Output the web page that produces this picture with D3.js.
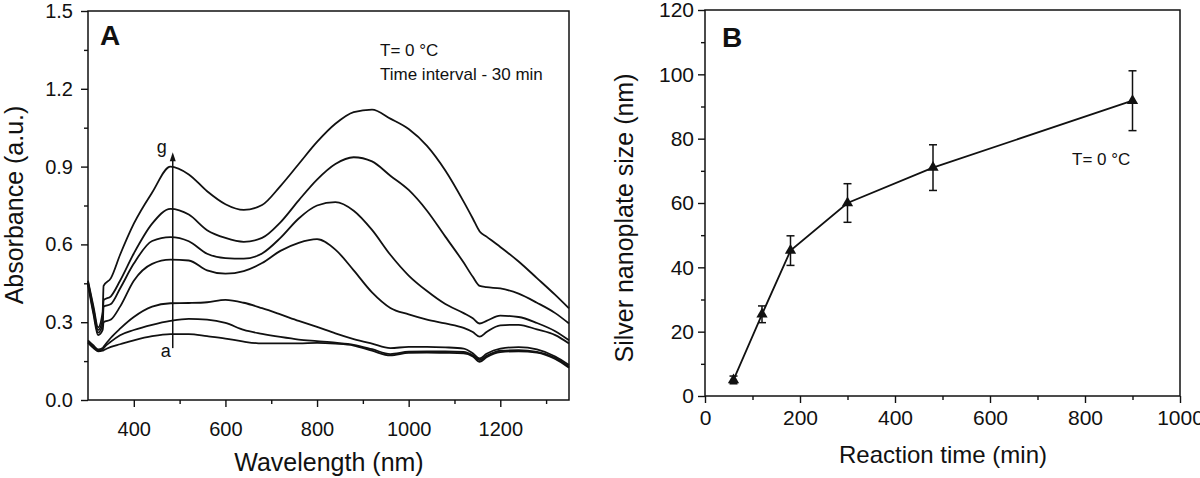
<!DOCTYPE html>
<html>
<head>
<meta charset="utf-8">
<script src="https://cdn.jsdelivr.net/npm/d3@7"></script>
<style>
  body { margin: 0; background: #fff; }
  svg { display: block; font-family: "Liberation Sans", Arial, sans-serif; }
</style>
</head>
<body>
<div class="chart"></div>
<script>

// DATA
// panel A: absorbance spectra, one array per curve (a = first, g = last)
const wavelengths = [300, 312, 322, 332, 334, 350, 370, 400, 440, 480, 520, 560, 600, 640, 680, 720, 760, 800,
  840, 880, 920, 960, 1000, 1040, 1080, 1120, 1140, 1155, 1170, 1200, 1240, 1280, 1320, 1350];
const curveA = [0.22, 0.2, 0.188, 0.19, 0.192, 0.205, 0.215, 0.23, 0.246, 0.254, 0.254, 0.246, 0.237, 0.225, 0.218, 0.218, 0.218, 0.22,
  0.217, 0.21, 0.19, 0.172, 0.182, 0.183, 0.182, 0.18, 0.168, 0.147, 0.165, 0.185, 0.188, 0.183, 0.158, 0.124];
const curveB = [0.225, 0.205, 0.19, 0.195, 0.2, 0.225, 0.25, 0.27, 0.29, 0.305, 0.313, 0.31, 0.297, 0.27, 0.255, 0.243, 0.233, 0.227,
  0.221, 0.213, 0.196, 0.177, 0.186, 0.187, 0.187, 0.185, 0.172, 0.154, 0.17, 0.19, 0.192, 0.186, 0.163, 0.128];
const curveC = [0.23, 0.21, 0.195, 0.2, 0.205, 0.24, 0.275, 0.32, 0.36, 0.373, 0.374, 0.377, 0.386, 0.375, 0.354, 0.33, 0.305, 0.282,
  0.257, 0.235, 0.217, 0.2, 0.205, 0.205, 0.203, 0.198, 0.18, 0.16, 0.178, 0.198, 0.204, 0.195, 0.168, 0.135];
const curveD = [0.445, 0.33, 0.25, 0.27, 0.3, 0.31, 0.36, 0.46, 0.525, 0.541, 0.538, 0.5, 0.487, 0.497, 0.528, 0.575, 0.606, 0.62,
  0.58, 0.5, 0.415, 0.355, 0.33, 0.31, 0.295, 0.278, 0.262, 0.244, 0.262, 0.288, 0.29, 0.272, 0.25, 0.218];
const curveE = [0.45, 0.34, 0.26, 0.29, 0.36, 0.37, 0.43, 0.526, 0.613, 0.628, 0.612, 0.564, 0.547, 0.545, 0.565, 0.625, 0.7, 0.75,
  0.763, 0.73, 0.656, 0.56, 0.48, 0.42, 0.37, 0.335, 0.315, 0.295, 0.305, 0.325, 0.32, 0.297, 0.265, 0.23];
const curveF = [0.455, 0.35, 0.27, 0.31, 0.385, 0.4, 0.46, 0.565, 0.68, 0.737, 0.715, 0.655, 0.625, 0.61, 0.625, 0.685, 0.77, 0.85,
  0.91, 0.936, 0.92, 0.865, 0.81, 0.73, 0.63, 0.53, 0.475, 0.44, 0.435, 0.43, 0.41, 0.375, 0.335, 0.295];
const curveG = [0.46, 0.36, 0.28, 0.34, 0.44, 0.47, 0.56, 0.68, 0.8, 0.9, 0.87, 0.805, 0.755, 0.733, 0.752, 0.825, 0.91, 0.995,
  1.065, 1.11, 1.12, 1.085, 1.045, 0.98, 0.885, 0.765, 0.7, 0.65, 0.63, 0.59, 0.534, 0.47, 0.405, 0.353];
const spectra = [curveA, curveB, curveC, curveD, curveE, curveF, curveG];

const wavelengthTicks = [400, 600, 800, 1000, 1200];
const wavelengthMinor = [500, 700, 900, 1100, 1300];
const absorbanceTicks = [0, 0.3, 0.6, 0.9, 1.2, 1.5];
const absorbanceMinor = [0.15, 0.45, 0.75, 1.05, 1.35];

// panel B: nanoplate size vs reaction time
const reactionTimes = [60, 120, 180, 300, 480, 900];
const plateSizes = [5, 25.4, 45.2, 60, 71, 91.8];
const sizeErrors = [1.2, 2.6, 4.6, 6, 7.1, 9.3];

const timeTicks = [0, 200, 400, 600, 800, 1000];
const timeMinor = [100, 300, 500, 700, 900];
const sizeTicks = [0, 20, 40, 60, 80, 100, 120];
const sizeMinor = [10, 30, 50, 70, 90, 110];


// Setup
const svg = d3.select('.chart')
  .append('svg')
  .attr('width', 1200)
  .attr('height', 478);

const xA = d3.scaleLinear().domain([300, 1350]).range([88, 569]);
const yA = d3.scaleLinear().domain([0, 1.5]).range([400, 11]);
const xB = d3.scaleLinear().domain([0, 1000]).range([705, 1180]);
const yB = d3.scaleLinear().domain([0, 120]).range([396, 10]);


// AXES
const styleAxis = (g, fontSize) => {
  g.select('.domain').remove();
  g.selectAll('line').attr('stroke', '#111').attr('stroke-width', 1.4);
  g.selectAll('text').attr('fill', '#111').style('font-size', fontSize + 'px')
    .style('font-family', '"Liberation Sans", Arial, sans-serif');
}

const drawAxes = (x, y, opt) => {
  const [x0, x1] = x.range();
  const [y0, y1] = y.range();

  svg.append('g')
    .attr('transform', `translate(0,${y0})`)
    .call(d3.axisBottom(x).tickValues(opt.xMinor).tickSize(4).tickFormat(''))
    .call(g => styleAxis(g, opt.fontSize));

  svg.append('g')
    .attr('transform', `translate(0,${y0})`)
    .call(d3.axisBottom(x).tickValues(opt.xTicks).tickSize(7).tickPadding(opt.xPad).tickFormat(opt.xFormat))
    .call(g => styleAxis(g, opt.fontSize));

  svg.append('g')
    .attr('transform', `translate(${x0},0)`)
    .call(d3.axisLeft(y).tickValues(opt.yMinor).tickSize(4).tickFormat(''))
    .call(g => styleAxis(g, opt.fontSize));

  svg.append('g')
    .attr('transform', `translate(${x0},0)`)
    .call(d3.axisLeft(y).tickValues(opt.yTicks).tickSize(7).tickPadding(opt.yPad).tickFormat(opt.yFormat))
    .call(g => styleAxis(g, opt.fontSize));

  // frame
  svg.append('rect')
    .attr('x', x0).attr('y', y1)
    .attr('width', x1 - x0).attr('height', y0 - y1)
    .attr('fill', 'none')
    .attr('stroke', '#111')
    .attr('stroke-width', 1.5);
}

const addText = (x, y, str, size, extra) => {
  const t = svg.append('text')
    .attr('x', x).attr('y', y)
    .attr('fill', '#111')
    .style('font-size', size + 'px')
    .text(str);
  if (extra) extra(t);
  return t;
}

const addYTitle = (x, y, str, size) => {
  svg.append('g')
    .attr('transform', `translate(${x},${y}) rotate(-90)`)
    .append('text')
    .attr('text-anchor', 'middle')
    .attr('fill', '#111')
    .style('font-size', size + 'px')
    .text(str);
}


// PANEL A
drawAxes(xA, yA, {
  xTicks: wavelengthTicks, xMinor: wavelengthMinor, xFormat: d3.format('d'), xPad: 15,
  yTicks: absorbanceTicks, yMinor: absorbanceMinor, yFormat: d3.format('.1f'), yPad: 8,
  fontSize: 20
});

const spectrumLine = d3.line()
  .x((d, i) => xA(wavelengths[i]))
  .y(d => yA(d))
  .curve(d3.curveMonotoneX);

svg.append('g')
  .attr('class', 'spectra')
  .selectAll('path')
  .data(spectra)
  .enter()
  .append('path')
  .attr('d', spectrumLine)
  .attr('fill', 'none')
  .attr('stroke', '#111')
  .attr('stroke-width', 1.8)
  .attr('stroke-linejoin', 'round');

// arrow a -> g
const arrowX = xA(485), arrowBottom = yA(0.2), arrowTop = yA(0.955);
svg.append('line')
  .attr('x1', arrowX).attr('x2', arrowX)
  .attr('y1', arrowBottom).attr('y2', arrowTop + 6)
  .attr('stroke', '#111')
  .attr('stroke-width', 1.5);
svg.append('path')
  .attr('d', `M${arrowX},${arrowTop} L${arrowX - 3},${arrowTop + 9} L${arrowX + 3},${arrowTop + 9} Z`)
  .attr('fill', '#111');

addText(arrowX - 11, 153, 'g', 18, t => t.attr('text-anchor', 'middle'));
addText(arrowX - 7, 357, 'a', 18, t => t.attr('text-anchor', 'middle'));

addText(100, 45, 'A', 28, t => t.style('font-weight', 'bold'));
addText(380, 56, 'T= 0 °C', 17);
addText(380, 80, 'Time interval - 30 min', 17);

addText(329, 471, 'Wavelength (nm)', 25, t => t.attr('text-anchor', 'middle'));
addYTitle(23, 205, 'Absorbance (a.u.)', 25);


// PANEL B
drawAxes(xB, yB, {
  xTicks: timeTicks, xMinor: timeMinor, xFormat: d3.format('d'), xPad: 7,
  yTicks: sizeTicks, yMinor: sizeMinor, yFormat: d3.format('d'), yPad: 4,
  fontSize: 21
});

const sizeLine = d3.line()
  .x((d, i) => xB(reactionTimes[i]))
  .y(d => yB(d));

svg.append('path')
  .datum(plateSizes)
  .attr('d', sizeLine)
  .attr('fill', 'none')
  .attr('stroke', '#111')
  .attr('stroke-width', 1.8);

const bars = svg.append('g')
  .attr('class', 'error-bars')
  .selectAll('g')
  .data(plateSizes)
  .enter()
  .append('g')
  .attr('stroke', '#111')
  .attr('stroke-width', 1.5);

bars.append('line')
  .attr('x1', (d, i) => xB(reactionTimes[i]))
  .attr('x2', (d, i) => xB(reactionTimes[i]))
  .attr('y1', (d, i) => yB(d - sizeErrors[i]))
  .attr('y2', (d, i) => yB(d + sizeErrors[i]));

[-1, 1].forEach(sign => {
  bars.append('line')
    .attr('x1', (d, i) => xB(reactionTimes[i]) - 4)
    .attr('x2', (d, i) => xB(reactionTimes[i]) + 4)
    .attr('y1', (d, i) => yB(d + sign * sizeErrors[i]))
    .attr('y2', (d, i) => yB(d + sign * sizeErrors[i]));
});

svg.append('g')
  .attr('class', 'markers')
  .selectAll('path')
  .data(plateSizes)
  .enter()
  .append('path')
  .attr('d', d3.symbol(d3.symbolTriangle, 55))
  .attr('transform', (d, i) => `translate(${xB(reactionTimes[i])},${yB(d)})`)
  .attr('fill', '#111');

addText(722, 47, 'B', 28, t => t.style('font-weight', 'bold'));
addText(1072, 165, 'T= 0 °C', 17);

addText(943, 463, 'Reaction time (min)', 24, t => t.attr('text-anchor', 'middle'));
addYTitle(633, 218, 'Silver nanoplate size (nm)', 25);

</script>
</body>
</html>
